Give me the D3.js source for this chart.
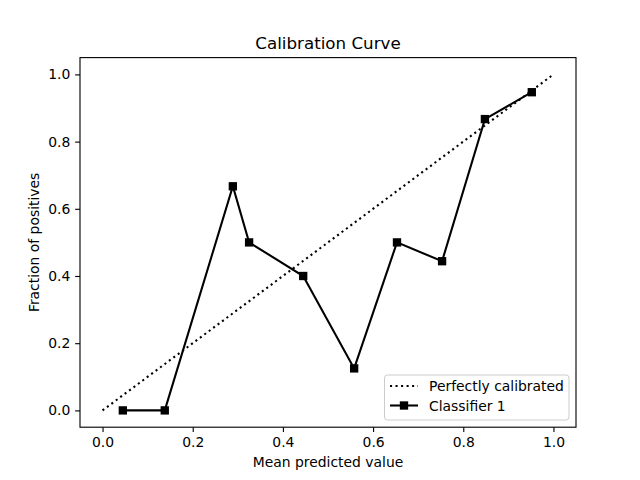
<!DOCTYPE html>
<html><head><meta charset="utf-8">
<script src="https://cdn.jsdelivr.net/npm/d3@7"></script>
<style>body{margin:0;background:#fff}svg{font-family:"DejaVu Sans",sans-serif}</style>
</head><body>
<script>
const meanPredicted = [0.045, 0.138, 0.289, 0.325, 0.445, 0.558, 0.653, 0.753, 0.848, 0.952];
const fractionPositives = [0.0, 0.0, 0.667, 0.5, 0.4, 0.125, 0.5, 0.444, 0.867, 0.947];
const diagonal = [0, 1];
const xTicks = [0.0, 0.2, 0.4, 0.6, 0.8, 1.0];
const yTicks = [0.0, 0.2, 0.4, 0.6, 0.8, 1.0];
const legendLabels = ["Perfectly calibrated", "Classifier 1"];

const W = 640, H = 480;
const L = 80, R = 576, T = 57.6, B = 427.2;
const svg = d3.select("body").append("svg").attr("width", W).attr("height", H);
const x = d3.scaleLinear().domain([-0.05, 1.05]).range([L, R]);
const y = d3.scaleLinear().domain([-0.05, 1.05]).range([B, T]);

const lw = 1.5 * 100 / 72;
// diagonal
svg.append("path")
  .attr("d", d3.line().x(d => x(d)).y(d => y(d))(diagonal))
  .attr("fill", "none").attr("stroke", "#000").attr("stroke-width", lw)
  .attr("stroke-dasharray", `${lw} ${1.65 * lw}`);
// classifier line
const pts = meanPredicted.map((v, i) => [v, fractionPositives[i]]);
svg.append("path")
  .attr("d", d3.line().x(d => x(d[0])).y(d => y(d[1]))(pts))
  .attr("fill", "none").attr("stroke", "#000").attr("stroke-width", lw);
const ms = 6 * 100 / 72;
svg.selectAll("rect.m").data(pts).enter().append("rect").attr("class", "m")
  .attr("x", d => x(d[0]) - ms / 2).attr("y", d => y(d[1]) - ms / 2)
  .attr("width", ms).attr("height", ms).attr("fill", "#000");

// axes
const fmt = d3.format(".1f");
const xa = svg.append("g").attr("transform", `translate(0,${B})`)
  .call(d3.axisBottom(x).tickValues(xTicks).tickFormat(fmt).tickSize(3.5 * 100 / 72).tickPadding(3.5 * 100 / 72));
const ya = svg.append("g").attr("transform", `translate(${L},0)`)
  .call(d3.axisLeft(y).tickValues(yTicks).tickFormat(fmt).tickSize(3.5 * 100 / 72).tickPadding(3.5 * 100 / 72));
[xa, ya].forEach(a => {
  a.select(".domain").remove();
  a.selectAll("line").attr("stroke", "#000").attr("stroke-width", 0.8 * 100 / 72);
  a.selectAll("text").attr("font-size", 13.9).attr("fill", "#000").attr("font-family", "DejaVu Sans");
});
svg.append("rect").attr("x", L).attr("y", T).attr("width", R - L).attr("height", B - T)
  .attr("fill", "none").attr("stroke", "#000").attr("stroke-width", 0.8 * 100 / 72);

// labels
svg.append("text").attr("x", (L + R) / 2).attr("y", 49).attr("text-anchor", "middle")
  .attr("font-size", 16.7).text("Calibration Curve");
svg.append("text").attr("x", (L + R) / 2).attr("y", 467).attr("text-anchor", "middle")
  .attr("font-size", 13.9).text("Mean predicted value");
svg.append("text").attr("transform", `translate(39,${(T + B) / 2}) rotate(-90)`).attr("text-anchor", "middle")
  .attr("font-size", 13.9).text("Fraction of positives");

// legend
const lg = svg.append("g");
lg.append("rect").attr("x", 384.5).attr("y", 375).attr("width", 184.5).attr("height", 45)
  .attr("rx", 3).attr("fill", "#fff").attr("fill-opacity", 0.8).attr("stroke", "#ccc").attr("stroke-width", 1);
legendLabels.forEach((lab, i) => {
  const cy = 386 + i * 19.5;
  const ln = lg.append("line").attr("x1", 390).attr("x2", 418).attr("y1", cy).attr("y2", cy)
    .attr("stroke", "#000").attr("stroke-width", lw);
  if (i === 0) ln.attr("stroke-dasharray", `${lw} ${1.65 * lw}`);
  else lg.append("rect").attr("x", 404 - ms / 2).attr("y", cy - ms / 2).attr("width", ms).attr("height", ms).attr("fill", "#000");
  lg.append("text").attr("x", 429).attr("y", cy + 5).attr("font-size", 13.9).text(lab);
});
</script>
</body></html>
